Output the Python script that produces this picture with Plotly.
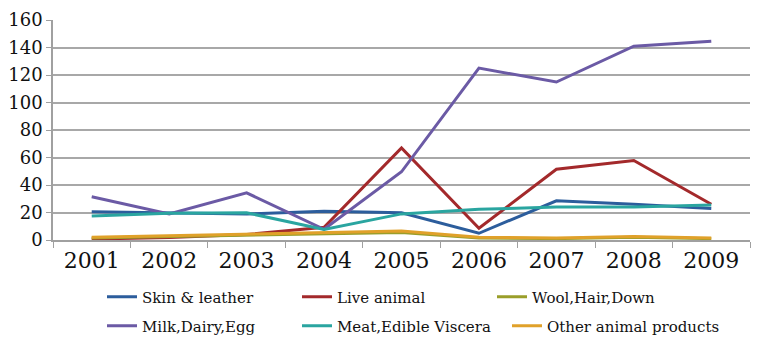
import plotly.graph_objects as go

years = ["2001", "2002", "2003", "2004", "2005", "2006", "2007", "2008", "2009"]
skin_leather = [20.5, 19.8, 18.9, 21.0, 19.8, 4.9, 28.5, 26.0, 23.0]
live_animal = [0.7, 1.8, 4.0, 9.2, 67.0, 8.5, 51.5, 57.8, 26.0]
wool_hair_down = [1.5, 2.5, 3.5, 4.5, 5.5, 1.5, 1.0, 2.0, 1.0]
milk_dairy_egg = [31.4, 19.0, 34.3, 7.8, 49.6, 125.0, 114.9, 141.0, 144.6]
meat_viscera = [17.4, 19.5, 19.8, 7.7, 19.0, 22.3, 24.0, 24.0, 25.4]
other_products = [2.0, 3.0, 4.0, 5.0, 6.5, 2.0, 1.5, 2.5, 1.5]
y_ticks = [0, 20, 40, 60, 80, 100, 120, 140, 160]

series = [
    ("Skin & leather", skin_leather, "#2c5d9c", "legend"),
    ("Live animal", live_animal, "#a3292b", "legend"),
    ("Wool,Hair,Down", wool_hair_down, "#9a9e2a", "legend"),
    ("Milk,Dairy,Egg", milk_dairy_egg, "#6b5aa5", "legend2"),
    ("Meat,Edible Viscera", meat_viscera, "#2aa5a0", "legend2"),
    ("Other animal products", other_products, "#e0a12a", "legend3"),
]

fig = go.Figure()
for name, vals, color, lg in series:
    fig.add_trace(go.Scatter(x=years, y=vals, name=name, mode="lines",
                             line=dict(color=color, width=3), legend=lg))

font_family = "DejaVu Serif"
W, H = 759, 340
leg_common = dict(orientation="h", xref="container", yref="container",
                  xanchor="left", yanchor="middle",
                  font=dict(family=font_family, size=15, color="#111111"),
                  entrywidth=150, entrywidthmode="pixels", itemwidth=30,
                  traceorder="normal", bgcolor="rgba(0,0,0,0)")
fig.update_layout(
    width=W, height=H,
    margin=dict(l=45, r=17, t=12, b=108, autoexpand=False),
    paper_bgcolor="white", plot_bgcolor="white",
    font=dict(family=font_family, color="#111111"),
    showlegend=True,
    legend=dict(leg_common, x=94 / W, y=1 - 289 / H),
    legend2=dict(leg_common, x=94 / W, y=1 - 318 / H),
    legend3=dict(leg_common, x=499 / W, y=1 - 318 / H, entrywidth=220),
)
fig.update_xaxes(
    type="category", range=[-0.5, 8.5], tickson="boundaries", ticks="outside", ticklen=6,
    tickcolor="#a0a0a0", showline=True, linecolor="#a0a0a0", linewidth=1.5,
    showgrid=False, automargin=False,
    tickfont=dict(family=font_family, size=22, color="#111111"),
)
fig.update_yaxes(
    range=[0, 160], tickvals=y_ticks, ticks="outside", ticklen=5,
    tickcolor="#a0a0a0", showline=True, linecolor="#a0a0a0", linewidth=1.5,
    showgrid=True, gridcolor="#a8a8a8", gridwidth=1.5, zeroline=False, automargin=False,
    tickfont=dict(family=font_family, size=18, color="#111111"),
)
fig.write_html("out.html")
